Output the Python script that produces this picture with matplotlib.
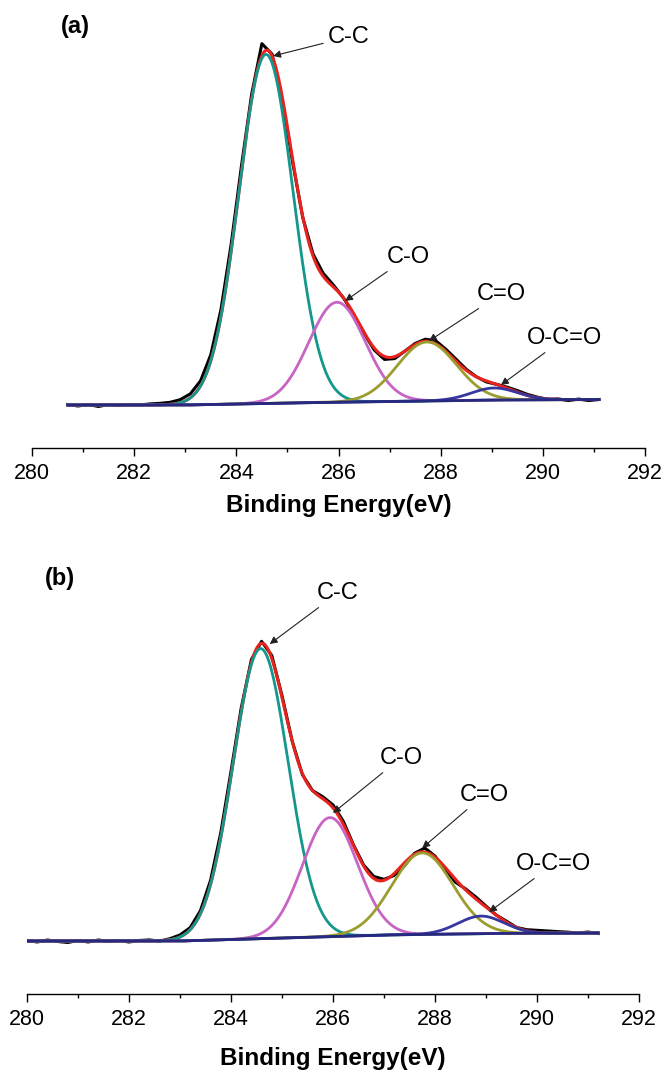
import numpy as np
import matplotlib
matplotlib.use("Agg")
import matplotlib.pyplot as plt
from matplotlib.ticker import MultipleLocator

plt.rcParams['font.family'] = ['Liberation Sans', 'DejaVu Sans']

# ---- panel (a) ----
# fitted components: centre (eV), height (a.u. above background), sigma (eV)
labels = ["C-C", "C-O", "C=O", "O-C=O"]
cen_a = [284.58, 285.97, 287.73, 289.05]
amp_a = [349.0, 100.0, 59.0, 12.0]
sig_a = [0.53, 0.55, 0.58, 0.45]
# background anchors
bg_x_a = [280.7, 283.0, 285.0, 287.0, 289.0, 291.1]
bg_y_a = [0.0, 0.0, 2.0, 3.5, 5.0, 5.5]
# measured spectrum: residual from the fit, every 0.2 eV from 280.7 to 291.1
res_a = [0.5, -1, 0.5, -1.5, 0.5, -0.5, 0.5, 0, 1, 1.5,
         2, 3, 4, 5, 6, 7, 7, 6, 5, 12,
         2, -3, -3, -1, 2, 3, 2, 0, -1, -1,
         -2, -3, -2, 0, 1, 2, 3, 2, 2, 1,
         0, -1, 0, 1, 1.5, 1, 0.5, -0.5, 0.5, -1,
         0.5, -1, 0]
x0_a, x1_a = 280.7, 291.1
# annotation text / arrow tip positions (eV, a.u.)
txt_a = [(286.19, 368), (287.36, 148), (289.18, 111), (290.43, 67)]
tip_a = [(284.72, 349), (286.13, 104), (287.77, 64), (289.18, 20)]

# ---- panel (b) ----
cen_b = [284.58, 285.94, 287.75, 288.9]
amp_b = [290.0, 119.0, 81.5, 17.5]
sig_b = [0.54, 0.54, 0.6, 0.45]
bg_x_b = [280.0, 283.0, 285.0, 287.0, 289.0, 291.2]
bg_y_b = [0.0, 0.0, 3.0, 6.0, 7.5, 8.0]
res_b = [0.5, -1, 1, -0.5, -1.5, 0.5, -1, 1, -0.5, 0.5,
         -1, 0.5, 1, -0.5, 1, 2, 2, 3, 4, 5,
         5, 4, 3, 2, 3, 2, 0, -1, 0, 2,
         3, 3, 1, 1, 2, 1, -2, -3, 1, 4,
         1, -2, -3, 1, 2, 1, 0, 1, 0, 1,
         2, 2, 1.5, 1, 0, 1, -0.5]
x0_b, x1_b = 280.0, 291.2
txt_b = [(286.10, 348), (287.33, 183), (288.96, 146), (290.33, 77)]
tip_b = [(284.76, 297), (286.0, 128), (287.75, 93), (289.06, 29)]

col_exp = "black"
col_env = "#e8231e"
col_comp = ["#14978c", "#c764c4", "#9b9d2e", "#3638a0"]
col_bg = "#27297e"


def gauss(x, c, a, s):
    return a * np.exp(-(x - c) ** 2 / (2 * s ** 2))


def draw(ax, cen, amp, sig, bgx, bgy, res, x0, x1, txt, tip, ylim):
    x = np.linspace(x0, x1, 800)
    bg = np.interp(x, bgx, bgy)
    comps = [gauss(x, c, a, s) for c, a, s in zip(cen, amp, sig)]
    env = bg + np.sum(comps, axis=0)

    xe = x0 + 0.2 * np.arange(len(res))
    ye = np.interp(xe, bgx, bgy) + np.sum(
        [gauss(xe, c, a, s) for c, a, s in zip(cen, amp, sig)], axis=0) + np.array(res)

    ax.plot(xe, ye, color=col_exp, lw=2.2, zorder=1)
    ax.plot(x, env, color=col_env, lw=2.2, zorder=2)
    for cmp, col in zip(comps, col_comp):
        ax.plot(x, bg + cmp, color=col, lw=2.0, zorder=3)
    ax.plot(x, bg, color=col_bg, lw=2.0, zorder=4)

    for lab, t, p in zip(labels, txt, tip):
        ax.annotate(lab, xy=p, xytext=t, fontsize=17, ha="center", va="center",
                    arrowprops=dict(arrowstyle="-|>", color="#222222", lw=0.8,
                                    mutation_scale=11, shrinkA=1, shrinkB=0))

    ax.set_xlim(280, 292)
    ax.set_ylim(*ylim)
    for s in ["left", "right", "top"]:
        ax.spines[s].set_visible(False)
    ax.spines["bottom"].set_linewidth(1.0)
    ax.set_yticks([])
    ax.xaxis.set_major_locator(MultipleLocator(2))
    ax.xaxis.set_minor_locator(MultipleLocator(1))
    ax.tick_params(axis="x", which="major", direction="out", length=6, width=1.0,
                   labelsize=15.5, pad=5)
    ax.tick_params(axis="x", which="minor", direction="out", length=3, width=1.0)


fig = plt.figure(figsize=(6.66, 10.7), dpi=100)

ax_a = fig.add_axes([32 / 666, 622 / 1070, 613 / 666, 438 / 1070])
draw(ax_a, cen_a, amp_a, sig_a, bg_x_a, bg_y_a, res_a, x0_a, x1_a, txt_a, tip_a, (-43, 395))
ax_a.set_xlabel("Binding Energy(eV)", fontsize=17.5, fontweight="bold", labelpad=7)

ax_b = fig.add_axes([27 / 666, 76 / 1070, 612 / 666, 434 / 1070])
draw(ax_b, cen_b, amp_b, sig_b, bg_x_b, bg_y_b, res_b, x0_b, x1_b, txt_b, tip_b, (-53, 381))
ax_b.set_xlabel("Binding Energy(eV)", fontsize=17.5, fontweight="bold", labelpad=12)

fig.text(75 / 666, 1 - 27 / 1070, "(a)", fontsize=17, fontweight="bold", ha="center", va="center")
fig.text(60 / 666, 1 - 578 / 1070, "(b)", fontsize=17, fontweight="bold", ha="center", va="center")

fig.savefig("out.png", dpi=100, facecolor="white")
